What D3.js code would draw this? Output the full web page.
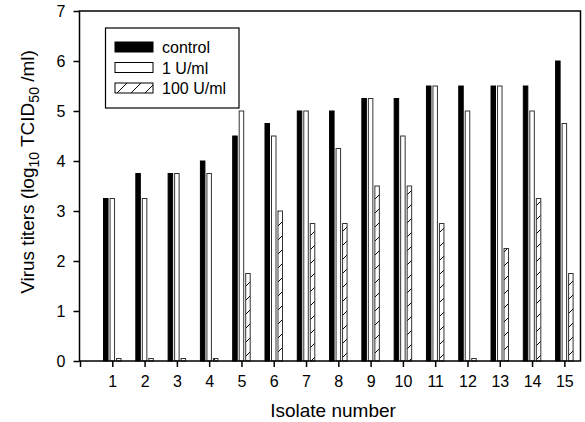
<!DOCTYPE html>
<html>
<head>
<meta charset="utf-8">
<script src="https://cdn.jsdelivr.net/npm/d3@7/dist/d3.min.js"></script>
<style>
  html, body { margin: 0; padding: 0; background: #fff; }
  svg { display: block; font-family: "Liberation Sans", Arial, sans-serif; }
</style>
</head>
<body>
<svg id="chart" width="585" height="422"></svg>
<script>
const isolates = [1,2,3,4,5,6,7,8,9,10,11,12,13,14,15];
const control = [3.25,3.75,3.75,4.0,4.5,4.75,5.0,5.0,5.25,5.25,5.5,5.5,5.5,5.5,6.0];
const oneU    = [3.25,3.25,3.75,3.75,5.0,4.5,5.0,4.25,5.25,4.5,5.5,5.0,5.5,5.0,4.75];
const hundredU= [0.05,0.05,0.05,0.05,1.75,3.0,2.75,2.75,3.5,3.5,2.75,0.05,2.25,3.25,1.75];
const seriesNames = ["control","1 U/ml","100 U/ml"];
const yTicks = [0,1,2,3,4,5,6,7];
const xTicks = [0,1,2,3,4,5,6,7,8,9,10,11,12,13,14,15];

const svg = d3.select("#chart");
const mL = 79.5, mR = 580.5, mT = 11, mB = 361;

const defs = svg.append("defs");
const pat = defs.append("pattern").attr("id","hatch").attr("patternUnits","userSpaceOnUse")
  .attr("width",14).attr("height",14);
pat.append("rect").attr("width",14).attr("height",14).attr("fill","#fff");
pat.append("path").attr("d","M-2,16 L16,-2 M-2,2 L2,-2 M12,16 L16,12").attr("stroke","#000").attr("stroke-width",1);

const x = d3.scaleLinear().domain([0,15.5]).range([mL+0.5, mR]);
const y = d3.scaleLinear().domain([0,7]).range([mB, mT]);

const fills = ["#000","#fff","url(#hatch)"];
const offsets = [-6.5, 0, 6.5];
const bw = 4.5;
const data = [control, oneU, hundredU];

data.forEach((vals, s) => {
  svg.append("g").selectAll("rect").data(vals).enter().append("rect")
    .attr("x", (d,i) => x(isolates[i]) + offsets[s] - bw/2)
    .attr("y", d => y(d))
    .attr("width", bw)
    .attr("height", d => y(0) - y(d))
    .attr("fill", fills[s])
    .attr("stroke", s === 0 ? "#000" : "#333")
    .attr("stroke-width", 1);
});

// frame
svg.append("rect").attr("x", mL).attr("y", mT).attr("width", mR-mL).attr("height", mB-mT)
  .attr("fill","none").attr("stroke","#000").attr("stroke-width",1.5);

const yAxis = d3.axisLeft(y).tickValues(yTicks).tickSize(6).tickPadding(8).tickFormat(d3.format("d"));
const gy = svg.append("g").attr("transform",`translate(${mL},0)`).call(yAxis);
gy.select(".domain").remove();
gy.selectAll("line").attr("stroke-width",1.5);
gy.selectAll("text").attr("font-size",16).attr("font-family","Liberation Sans, Arial, sans-serif");

const xAxis = d3.axisBottom(x).tickValues(xTicks).tickSize(6).tickPadding(9).tickFormat(d => d === 0 ? "" : d);
const gx = svg.append("g").attr("transform",`translate(0,${mB})`).call(xAxis);
gx.select(".domain").remove();
gx.selectAll("line").attr("stroke-width",1.5);
gx.selectAll("text").attr("font-size",16).attr("font-family","Liberation Sans, Arial, sans-serif");

// axis titles
svg.append("text").attr("x", 333).attr("y", 417).attr("text-anchor","middle")
  .attr("font-size",19).text("Isolate number");

const yl = svg.append("text").attr("transform","translate(34,172) rotate(-90)")
  .attr("text-anchor","middle").attr("font-size",19);
yl.append("tspan").text("Virus titers (log");
yl.append("tspan").attr("font-size",14).attr("dy",5).text("10");
yl.append("tspan").attr("dy",-5).text(" TCID");
yl.append("tspan").attr("font-size",14).attr("dy",5).text("50");
yl.append("tspan").attr("dy",-5).text(" /ml)");

// legend
const lg = svg.append("g");
lg.append("rect").attr("x",105.5).attr("y",28).attr("width",133.5).attr("height",80)
  .attr("fill","#fff").attr("stroke","#000").attr("stroke-width",1.2);
seriesNames.forEach((name,i) => {
  const cy = 47 + i*20.5;
  lg.append("rect").attr("x",115).attr("y",cy-5).attr("width",38).attr("height",10)
    .attr("fill",fills[i]).attr("stroke","#000").attr("stroke-width",1);
  lg.append("text").attr("x",162).attr("y",cy+6).attr("font-size",16).text(name);
});
</script>
</body>
</html>
